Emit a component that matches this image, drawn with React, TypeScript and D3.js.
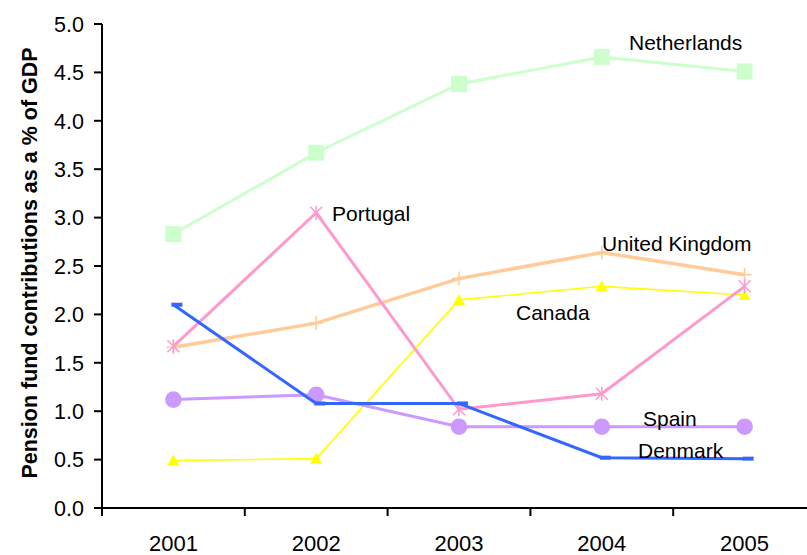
import React from 'react';
import * as d3 from 'd3';

// years on the category axis
const years = ['2001', '2002', '2003', '2004', '2005'];
const yTicks = [0, 0.5, 1, 1.5, 2, 2.5, 3, 3.5, 4, 4.5, 5];

// pension fund contributions, % of GDP
const netherlands = [2.83, 3.67, 4.38, 4.66, 4.51];
const portugal = [1.67, 3.05, 1.02, 1.18, 2.29];
const unitedKingdom = [1.66, 1.91, 2.37, 2.64, 2.41];
const canada = [0.49, 0.51, 2.15, 2.29, 2.2];
const spain = [1.12, 1.17, 0.84, 0.84, 0.84];
const denmark = [2.1, 1.08, 1.08, 0.52, 0.51];

type Marker = 'square' | 'asterisk' | 'plus' | 'triangle' | 'circle' | 'dash';

interface Series {
  name: string;
  values: number[];
  color: string;
  width: number;
  marker: Marker;
  label: { x: number; y: number };
}

const series: Series[] = [
  { name: 'Netherlands', values: netherlands, color: '#ccffcc', width: 3, marker: 'square', label: { x: 629, y: 43 } },
  { name: 'United Kingdom', values: unitedKingdom, color: '#ffcc99', width: 3.5, marker: 'plus', label: { x: 602, y: 244 } },
  { name: 'Canada', values: canada, color: '#ffff00', width: 1.6, marker: 'triangle', label: { x: 516, y: 313 } },
  { name: 'Spain', values: spain, color: '#cc99ff', width: 3, marker: 'circle', label: { x: 643, y: 419 } },
  { name: 'Portugal', values: portugal, color: '#ff99cc', width: 3, marker: 'asterisk', label: { x: 332, y: 214 } },
  { name: 'Denmark', values: denmark, color: '#3366ff', width: 3, marker: 'dash', label: { x: 638, y: 451 } },
];

const W = 807;
const H = 555;
const font = '"Liberation Sans", Arial, sans-serif';

const x = d3.scaleBand<string>().domain(years).range([102, 816]);
const y = d3.scaleLinear().domain([0, 5]).range([508, 24]);
const cx = (yr: string) => (x(yr) as number) + x.bandwidth() / 2;

function MarkerShape({ m, px, py, color }: { m: Marker; px: number; py: number; color: string }) {
  switch (m) {
    case 'square':
      return <rect x={px - 8} y={py - 8} width={16} height={16} fill={color} />;
    case 'circle':
      return <circle cx={px} cy={py} r={8.3} fill={color} />;
    case 'triangle':
      return <path d={`M${px},${py - 6}L${px + 6},${py + 5}L${px - 6},${py + 5}Z`} fill={color} />;
    case 'plus':
      return (
        <path d={`M${px - 7},${py}H${px + 7}M${px},${py - 7}V${py + 7}`} stroke={color} strokeWidth={1.5} />
      );
    case 'asterisk':
      return (
        <path
          d={`M${px - 6},${py - 6}L${px + 6},${py + 6}M${px - 6},${py + 6}L${px + 6},${py - 6}M${px},${py - 7}V${py + 7}`}
          stroke={color}
          strokeWidth={1.5}
        />
      );
    case 'dash':
      return <path d={`M${px - 2},${py}H${px + 9}`} stroke={color} strokeWidth={4} />;
  }
}

export default function App() {
  const line = d3
    .line<number>()
    .x((_, i) => cx(years[i]))
    .y(d => y(d));

  const bandEdges = years.map(yr => x(yr) as number).concat([816]);

  return (
    <svg width={W} height={H} style={{ position: 'absolute', left: 0, top: 0, background: '#fff' }} fontFamily={font}>
      {/* y axis */}
      <line x1={102} x2={102} y1={24} y2={508} stroke="#000" strokeWidth={2} />
      {yTicks.map(t => (
        <g key={t}>
          <line x1={94} x2={102} y1={y(t)} y2={y(t)} stroke="#000" strokeWidth={2} />
          <text x={84} y={y(t)} dy="0.36em" textAnchor="end" fontSize={21.5} fill="#000">
            {t.toFixed(1)}
          </text>
        </g>
      ))}
      {/* x axis */}
      <line x1={102} x2={W} y1={508} y2={508} stroke="#000" strokeWidth={2} />
      {bandEdges.map(e => (
        <line key={e} x1={e} x2={e} y1={508} y2={516} stroke="#000" strokeWidth={2} />
      ))}
      {years.map(yr => (
        <text key={yr} x={cx(yr)} y={551} textAnchor="middle" fontSize={22} fill="#000">
          {yr}
        </text>
      ))}
      <text
        transform="translate(37,263) rotate(-90)"
        textAnchor="middle"
        fontSize={21.5}
        fontWeight="bold"
        fill="#000"
      >
        Pension fund contributions as a % of GDP
      </text>

      {series.map(s => (
        <g key={s.name}>
          <path d={line(s.values) || ''} fill="none" stroke={s.color} strokeWidth={s.width} />
          {s.values.map((v, i) => (
            <MarkerShape key={i} m={s.marker} px={cx(years[i])} py={y(v)} color={s.color} />
          ))}
        </g>
      ))}
      {series.map(s => (
        <text key={s.name} x={s.label.x} y={s.label.y} dy="0.35em" fontSize={21} fill="#000">
          {s.name}
        </text>
      ))}
    </svg>
  );
}
